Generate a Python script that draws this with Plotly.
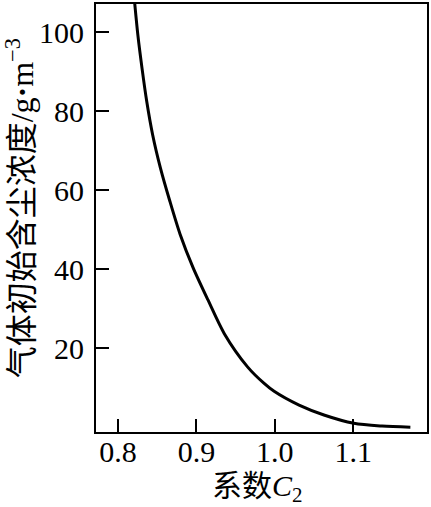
import plotly.graph_objects as go

# curve
c2 = [0.8212, 0.8254, 0.8307, 0.8367, 0.8442, 0.8541, 0.8661, 0.8792, 0.8956, 0.9146,
      0.9356, 0.9652, 0.9864, 0.9991, 1.0309, 1.0626, 1.1008, 1.1367, 1.1728]
dust = [107.7, 99.3, 90.9, 82.5, 74.1, 65.7, 57.3, 48.9, 40.5, 32.3,
        23.7, 15.3, 11.1, 9.1, 5.6, 3.1, 1.0, 0.3, 0.0]

x_ticks = [0.8, 0.9, 1.0, 1.1]
x_labels = ["0.8", "0.9", "1.0", "1.1"]
y_ticks = [20, 40, 60, 80, 100]

serif = "Liberation Serif, Times New Roman, serif"
mixed = "Liberation Serif, Noto Sans CJK SC, serif"

fig = go.Figure()
fig.add_trace(go.Scatter(
    x=c2, y=dust, mode="lines",
    line=dict(color="black", width=3, shape="spline", smoothing=0.8),
    showlegend=False,
))

axis_common = dict(
    showline=True, linecolor="black", linewidth=2, mirror=True,
    ticks="inside", ticklen=13, tickwidth=1.5, tickcolor="black",
    showgrid=False, zeroline=False,
    tickfont=dict(family=serif, size=30, color="black"),
)

fig.update_xaxes(range=[0.772, 1.194], tickvals=x_ticks, ticktext=x_labels,
                 ticklabelstandoff=-8, **axis_common)
fig.update_yaxes(range=[-1.2, 107.2], tickvals=y_ticks, ticklabelstandoff=4, **axis_common)

# axis titles
fig.add_annotation(
    text="系数<i>C</i><sub>2</sub>",
    x=0.488, y=-0.081, xref="paper", yref="paper", xanchor="center", yanchor="top",
    showarrow=False, font=dict(family=mixed, size=30, color="black"),
)
fig.add_annotation(
    text="气体初始含尘浓度/g<b>·</b>m<sup>−3</sup>",
    x=-0.229, y=0.523, xref="paper", yref="paper", xanchor="center", yanchor="middle",
    textangle=-90, showarrow=False, font=dict(family=mixed, size=32, color="black"),
)

fig.update_layout(
    width=431, height=507,
    margin=dict(l=96, r=3, t=2, b=75),
    plot_bgcolor="white", paper_bgcolor="white",
)

fig.write_html(
    "out.html",
    config={"displayModeBar": False},
    post_script="document.body.style.margin='0';",
)
